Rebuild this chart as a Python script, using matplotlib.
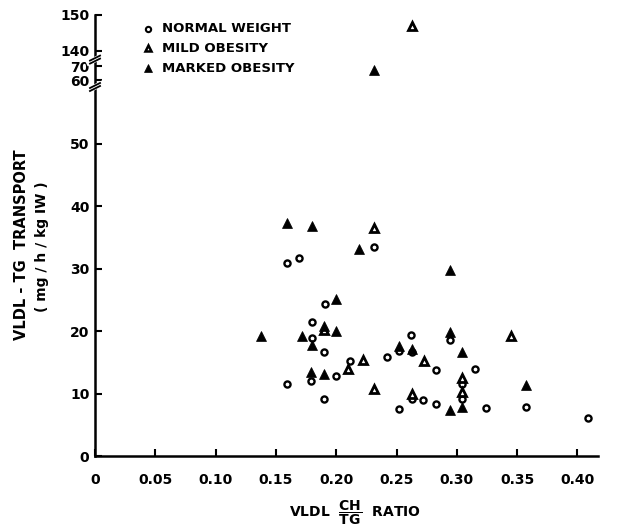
import numpy as np
from matplotlib import pyplot as plt

# values (x = VLDL CH/TG ratio, y = VLDL-TG transport)
normal_x = [0.159, 0.169, 0.191, 0.180, 0.180, 0.190, 0.211, 0.200, 0.179, 0.159,
            0.190, 0.242, 0.252, 0.262, 0.263, 0.283, 0.294, 0.315, 0.252, 0.263,
            0.272, 0.283, 0.304, 0.304, 0.324, 0.357, 0.409, 0.231]
normal_y = [31.0, 31.8, 24.3, 21.4, 18.9, 16.6, 15.3, 12.8, 12.0, 11.5,
            9.2, 15.8, 16.8, 19.4, 16.6, 13.8, 18.6, 13.9, 7.6, 9.1,
            8.9, 8.3, 11.6, 9.1, 7.7, 7.9, 6.1, 33.5]

mild_x = [0.222, 0.210, 0.273, 0.231, 0.345, 0.190, 0.263, 0.231, 0.304, 0.304, 0.263]
mild_y = [15.4, 13.9, 15.3, 10.7, 19.3, 20.2, 147.0, 36.5, 12.5, 10.3, 9.9]

marked_x = [0.159, 0.180, 0.219, 0.200, 0.190, 0.200, 0.138, 0.172, 0.180, 0.179,
            0.190, 0.252, 0.263, 0.294, 0.304, 0.294, 0.304, 0.357, 0.294, 0.231]
marked_y = [37.4, 36.9, 33.1, 25.2, 20.9, 20.1, 19.3, 19.3, 17.8, 13.5,
            13.1, 17.7, 17.1, 19.8, 16.7, 7.3, 7.9, 11.4, 29.8, 67.5]

xticks = [0, 0.05, 0.10, 0.15, 0.20, 0.25, 0.30, 0.35, 0.40]
xtick_labels = ['0', '0.05', '0.10', '0.15', '0.20', '0.25', '0.30', '0.35', '0.40']
yticks = [0, 10, 20, 30, 40, 50, 60, 70, 140, 150]

# broken y axis: piecewise linear scale (data -> height)
y_knots = [-10, 0, 58, 60, 70, 72, 138, 140, 150, 160]
h_knots = [-62, 0, 362, 376, 390, 393, 400, 405, 441, 478]

def fwd(y):
    return np.interp(y, y_knots, h_knots)

def inv(h):
    return np.interp(h, h_knots, y_knots)

plt.rcParams['font.family'] = 'DejaVu Sans'
plt.rcParams['font.weight'] = 'bold'
plt.rcParams['mathtext.fontset'] = 'dejavusans'

fig = plt.figure(figsize=(6.26, 5.32), dpi=100)
ax = fig.add_axes([95/626, 76/532, 503/626, 441/532])
ax.set_yscale('function', functions=(fwd, inv))

ax.plot(normal_x, normal_y, 'o', ms=4.4, mfc='white', mec='black', mew=1.7,
        clip_on=False, zorder=3)
ax.plot(mild_x, mild_y, '^', ms=5.5, mfc='white', mec='black', mew=2.0,
        clip_on=False, zorder=3)
ax.plot(marked_x, marked_y, '^', ms=6.5, mfc='black', mec='black', mew=0.5,
        clip_on=False, zorder=3)

ax.set_xlim(0, 0.417)
ax.set_ylim(0, 150)
ax.set_xticks(xticks)
ax.set_xticklabels(xtick_labels)
ax.set_yticks(yticks)
ax.tick_params(direction='in', length=5, width=1.5, labelsize=10, pad=12)
ax.tick_params(axis='y', pad=4)
for s in ['top', 'right']:
    ax.spines[s].set_visible(False)
for s in ['left', 'bottom']:
    ax.spines[s].set_linewidth(1.8)

# axis break marks on the left spine
tr = ax.get_yaxis_transform()
for yb in [59.0, 104.0]:
    ax.plot([-0.012, 0.012], [inv(fwd(yb) - 3), inv(fwd(yb) + 3)], color='white',
            lw=4, transform=tr, clip_on=False, zorder=4)
    ax.plot([-0.01, 0.01], [inv(fwd(yb) - 4), inv(fwd(yb) + 1)], color='black',
            lw=1.3, transform=tr, clip_on=False, zorder=5)
    ax.plot([-0.01, 0.01], [inv(fwd(yb) - 1), inv(fwd(yb) + 4)], color='black',
            lw=1.3, transform=tr, clip_on=False, zorder=5)

# legend written by hand like the original
leg_labels = ['NORMAL WEIGHT', 'MILD OBESITY', 'MARKED OBESITY']
leg_y = [503/532, 484/532, 464/532]
fig.lines.append(plt.Line2D([148/626], [leg_y[0]], marker='o', ms=3.8, mfc='white',
                            mec='black', mew=1.5, transform=fig.transFigure))
fig.lines.append(plt.Line2D([148/626], [leg_y[1]], marker='^', ms=5, mfc='white',
                            mec='black', mew=1.8, transform=fig.transFigure))
fig.lines.append(plt.Line2D([148/626], [leg_y[2]], marker='^', ms=6, mfc='black',
                            mec='black', mew=0.5, transform=fig.transFigure))
for lab, yy in zip(leg_labels, leg_y):
    fig.text(162/626, yy, lab, fontsize=9.5, va='center', ha='left')

fig.text(22/626, 287/532, 'VLDL - TG  TRANSPORT', rotation=90, fontsize=10.5,
         ha='center', va='center')
fig.text(42/626, 285/532, '( mg / h / kg IW )', rotation=90, fontsize=10,
         ha='center', va='center')
fig.text(355/626, 19/532, r'VLDL  $\mathbf{\dfrac{CH}{TG}}$  RATIO', fontsize=10,
         ha='center', va='center')

plt.savefig('out.png', dpi=100)
